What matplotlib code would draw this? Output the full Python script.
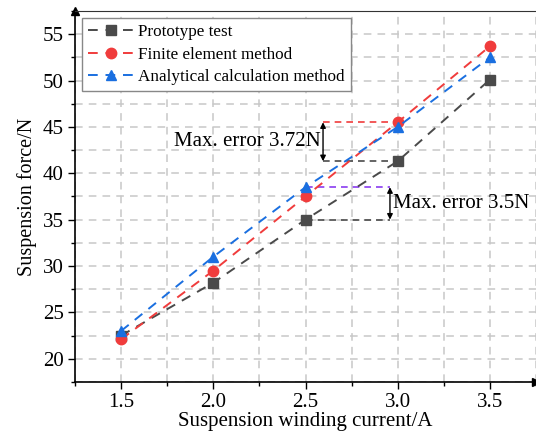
import matplotlib
matplotlib.use('Agg')
import matplotlib.pyplot as plt
from matplotlib.ticker import MultipleLocator

# data
current = [1.5, 2.0, 2.5, 3.0, 3.5]
prototype = [22.5, 28.2, 35.0, 41.3, 50.1]
fem = [22.1, 29.5, 37.5, 45.5, 53.7]
analytical = [23.0, 31.0, 38.5, 45.0, 52.5]

err1_x = 2.595
err2_x = 2.958

plt.rcParams['font.family'] = ['Liberation Serif', 'DejaVu Serif']

fig = plt.figure(figsize=(5.36, 4.40), dpi=100)
ax = fig.add_axes([0.14, 0.132, 0.86, 0.843])

dash = (0, (5, 4))
ax.plot(current, prototype, linestyle=dash, color='#4a4a4a', lw=1.4,
        marker='s', ms=6.5, label='Prototype test', zorder=3)
ax.plot(current, fem, linestyle=dash, color='#f03c3c', lw=1.4,
        marker='o', ms=7.5, label='Finite element method', zorder=3)
ax.plot(current, analytical, linestyle=dash, color='#1a6fe0', lw=1.4,
        marker='^', ms=7.5, label='Analytical calculation method', zorder=3)

# error annotations at 3.0 A
ax.plot([err1_x, current[3]], [fem[3], fem[3]], linestyle=(0, (4, 3)), color='#f03c3c', lw=1.2)
ax.plot([err1_x, current[3]], [prototype[3], prototype[3]], linestyle=(0, (4, 3)), color='#4a4a4a', lw=1.2)
ax.annotate('', xy=(err1_x, fem[3]), xytext=(err1_x, prototype[3]),
            arrowprops=dict(arrowstyle='<|-|>', color='black', lw=1.0, mutation_scale=8, shrinkA=0, shrinkB=0))
ax.text(err1_x - 0.015, (fem[3] + prototype[3]) / 2, 'Max. error 3.72N',
        ha='right', va='center', fontsize=15)

# error annotations at 2.5 A
ax.plot([current[2], err2_x], [analytical[2], analytical[2]], linestyle=(0, (4, 3)), color='#8a3cf0', lw=1.2)
ax.plot([current[2], err2_x], [prototype[2], prototype[2]], linestyle=(0, (4, 3)), color='#4a4a4a', lw=1.2)
ax.annotate('', xy=(err2_x, analytical[2]), xytext=(err2_x, prototype[2]),
            arrowprops=dict(arrowstyle='<|-|>', color='black', lw=1.0, mutation_scale=8, shrinkA=0, shrinkB=0))
ax.text(err2_x + 0.015, (analytical[2] + prototype[2]) / 2, 'Max. error 3.5N',
        ha='left', va='center', fontsize=15)

ax.set_xlim(1.25, 3.75)
ax.set_ylim(17.5, 57.5)
ax.xaxis.set_minor_locator(MultipleLocator(0.25))
ax.yaxis.set_minor_locator(MultipleLocator(2.5))
ax.set_xticks(current)
ax.set_xticklabels(['1.5', '2.0', '2.5', '3.0', '3.5'])
ax.set_yticks([20, 25, 30, 35, 40, 45, 50, 55])

ax.grid(True, which='both', linestyle=(0, (5, 4)), color='#c8c8c8', lw=1.1, zorder=0)
ax.set_axisbelow(True)
ax.tick_params(which='major', direction='out', length=5, width=1, labelsize=15, pad=3)
ax.tick_params(which='minor', direction='out', length=3, width=1)

ax.spines['right'].set_visible(False)
ax.spines['top'].set_color('#333333')
for s in ['left', 'bottom']:
    ax.spines[s].set_linewidth(1.2)
ax.plot(1, 0, '>k', ms=6, transform=ax.transAxes, clip_on=False)
ax.plot(0, 1, '^k', ms=6, transform=ax.transAxes, clip_on=False)

ax.set_xlabel('Suspension winding current/A', fontsize=15, labelpad=0)
ax.set_ylabel('Suspension force/N', fontsize=14.5, labelpad=4)

leg = ax.legend(loc='upper left', fontsize=12.3, handlelength=2.7, fancybox=False,
                edgecolor='#888888', framealpha=1, borderaxespad=0.4,
                handletextpad=0.25, labelspacing=0.4, borderpad=0.35)

fig.savefig('out.png', dpi=100)
